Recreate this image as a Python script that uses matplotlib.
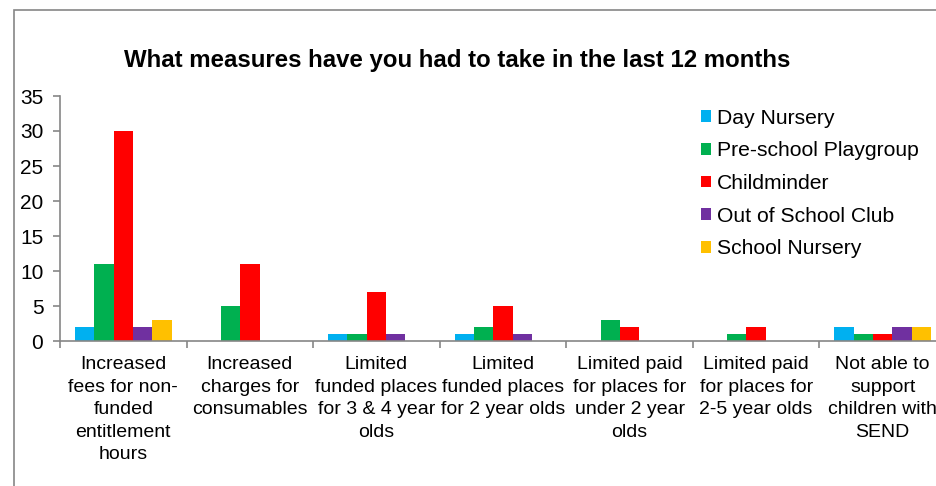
import matplotlib.pyplot as plt
import numpy as np
from matplotlib.patches import Rectangle

plt.rcParams["font.family"] = ["Liberation Sans", "DejaVu Sans"]

categories = [
    "Increased\nfees for non-\nfunded\nentitlement\nhours",
    "Increased\ncharges for\nconsumables",
    "Limited\nfunded places\nfor 3 & 4 year\nolds",
    "Limited\nfunded places\nfor 2 year olds",
    "Limited paid\nfor places for\nunder 2 year\nolds",
    "Limited paid\nfor places for\n2-5 year olds",
    "Not able to\nsupport\nchildren with\nSEND",
]

day_nursery = [2, 0, 1, 1, 0, 0, 2]
preschool_playgroup = [11, 5, 1, 2, 3, 1, 1]
childminder = [30, 11, 7, 5, 2, 2, 1]
out_of_school_club = [2, 0, 1, 1, 0, 0, 2]
school_nursery = [3, 0, 0, 0, 0, 0, 2]

series = {
    "Day Nursery": day_nursery,
    "Pre-school Playgroup": preschool_playgroup,
    "Childminder": childminder,
    "Out of School Club": out_of_school_club,
    "School Nursery": school_nursery,
}
colors = ["#00B0F0", "#00B050", "#FF0000", "#7030A0", "#FFC000"]

fig = plt.figure(figsize=(9.37, 4.86), dpi=100)
ax = fig.add_axes([60 / 937, 145 / 486, 886 / 937, 245 / 486])

# outer chart frame, cut off on the right and bottom
fig.patches.append(Rectangle((14 / 937, -0.1), 1.2, 1 - 10 / 486 + 0.1,
                             transform=fig.transFigure, fill=False,
                             edgecolor="#868686", linewidth=1.2))

x = np.arange(len(categories)) + 0.5
width = 0.153
handles = []
for i, (name, vals) in enumerate(series.items()):
    b = ax.bar(x + (i - 2) * width, vals, width, color=colors[i], label=name,
               linewidth=0)
    handles.append(b)

ax.set_xlim(0, len(categories))
ax.set_ylim(0, 35)
ax.set_yticks(range(0, 36, 5))

for s in ["top", "right"]:
    ax.spines[s].set_visible(False)
for s in ["left", "bottom"]:
    ax.spines[s].set_color("#868686")
    ax.spines[s].set_linewidth(1.2)

ax.set_xticks(x)
ax.set_xticklabels(categories, fontsize=14, linespacing=1.42)
ax.set_xticks(np.arange(0, len(categories) + 1), minor=True)
ax.tick_params(axis="x", which="major", length=0, pad=11)
ax.tick_params(axis="x", which="minor", length=5, color="#868686", width=1.2)
ax.tick_params(axis="y", length=5, color="#868686", width=1.2, pad=7,
               labelsize=15)

fig.text(457 / 937, 1 - 60 / 486, "What measures have you had to take in the last 12 months",
         ha="center", va="center", fontsize=17.3, fontweight="bold")

fig.legend(handles=handles, loc="upper left",
           bbox_to_anchor=(690 / 937, 1 - 98 / 486), frameon=False,
           fontsize=15.2, handlelength=0.48, handleheight=0.48,
           handletextpad=0.3, labelspacing=0.65, borderpad=0)

fig.savefig("out.png", dpi=100)
